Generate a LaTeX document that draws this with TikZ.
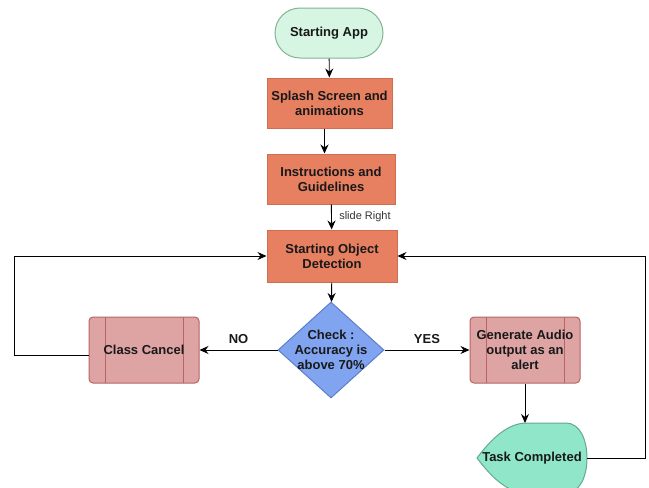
\documentclass[tikz,border=0pt]{standalone}
\usepackage{fontspec}
\setmainfont{Liberation Sans}
\usetikzlibrary{arrows}
\usetikzlibrary{arrows.meta}
\usetikzlibrary{shapes.geometric}
\usetikzlibrary{positioning}

\definecolor{startfill}{RGB}{214,245,226}
\definecolor{startline}{RGB}{130,180,150}
\definecolor{stepfill}{RGB}{230,128,96}
\definecolor{stepline}{RGB}{205,110,80}
\definecolor{procfill}{RGB}{222,163,163}
\definecolor{procline}{RGB}{184,100,100}
\definecolor{checkfill}{RGB}{128,164,240}
\definecolor{checkline}{RGB}{95,125,205}
\definecolor{endfill}{RGB}{143,230,200}
\definecolor{endline}{RGB}{100,170,140}

\tikzset{
  label font/.style={font=\bfseries\fontsize{13}{15}\selectfont, text=black!90},
  startbox/.style={rectangle, rounded corners=25pt, draw=startline, fill=startfill,
    line width=1pt, minimum width=108pt, minimum height=50pt, label font},
  stepbox/.style={rectangle, draw=stepline, fill=stepfill, line width=1pt,
    minimum height=50pt, align=center, label font},
  procbox/.style={rectangle, rounded corners=4pt, draw=procline, fill=procfill,
    line width=1pt, minimum width=110pt, minimum height=66pt, align=center, label font,
    path picture={
      \draw[procline, line width=1pt]
        ([xshift=16pt]path picture bounding box.north west) -- ([xshift=16pt]path picture bounding box.south west)
        ([xshift=-16pt]path picture bounding box.north east) -- ([xshift=-16pt]path picture bounding box.south east);
    }},
  checkbox/.style={diamond, draw=checkline, fill=checkfill, line width=1pt,
    minimum width=106pt, minimum height=96pt, inner sep=0pt},
  arr/.style={-{Stealth[length=9pt, width=8pt, inset=3pt]}, line width=0.9pt}
}

\begin{document}
\begin{tikzpicture}[x=1pt, y=-1pt]
  \useasboundingbox (0,0) rectangle (649,488);

  \node[startbox] (start) at (329,33) {Starting App};
  \node[stepbox, minimum width=125pt] (splash) at (329.5,103) {Splash Screen and\\animations};
  \node[stepbox, minimum width=128pt] (instr) at (331,179) {Instructions and\\Guidelines};
  \node[stepbox, minimum width=130pt, minimum height=52pt] (detect) at (332,256) {Starting Object\\Detection};
  \node[checkbox] (check) at (331,350) {};
  \node[label font, align=center] (checktext) at (check) {Check :\\Accuracy is\\above 70\%};
  \node[procbox] (cancel) at (144,350) {Class Cancel};
  \node[procbox] (audio) at (525,350) {Generate Audio\\output as an\\alert};

  % task completed drop shape
  \draw[draw=endline, fill=endfill, line width=1pt]
    (477,458) .. controls (492,438) and (508,423) .. (527,423) -- (566,423)
    .. controls (580,423) and (587,440) .. (587,458)
    .. controls (587,476) and (580,493) .. (566,493) -- (527,493)
    .. controls (508,493) and (492,478) .. (477,458) -- cycle;
  \node[label font] (task) at (532,458) {Task Completed};
  \coordinate (taskeast) at (587,458);

  \draw[arr] (start) -- (splash);
  \draw[arr] ([xshift=-5pt]splash.south) -- ([xshift=-5pt]splash.south |- instr.north);
  \draw[arr] (instr) -- (detect)
    node[midway, right=4pt, font=\fontsize{11}{13}\selectfont, text=black!80] (slide) {slide Right};
  \draw[arr] (detect) -- (check);
  \draw[arr] (check) -- (cancel) node[midway, above=3pt, label font] (no) {NO};
  \draw[arr] (check) -- (audio) node[midway, above=3pt, label font] (yes) {YES};
  \draw[arr] (audio) -- (audio.south |- 0,423);
  \draw[arr] ([yshift=-5pt]cancel.west) -- ++(-74,0) |- (detect.west);
  \draw[arr] (taskeast) -- (645,458) |- (detect.east);
\end{tikzpicture}
\end{document}
